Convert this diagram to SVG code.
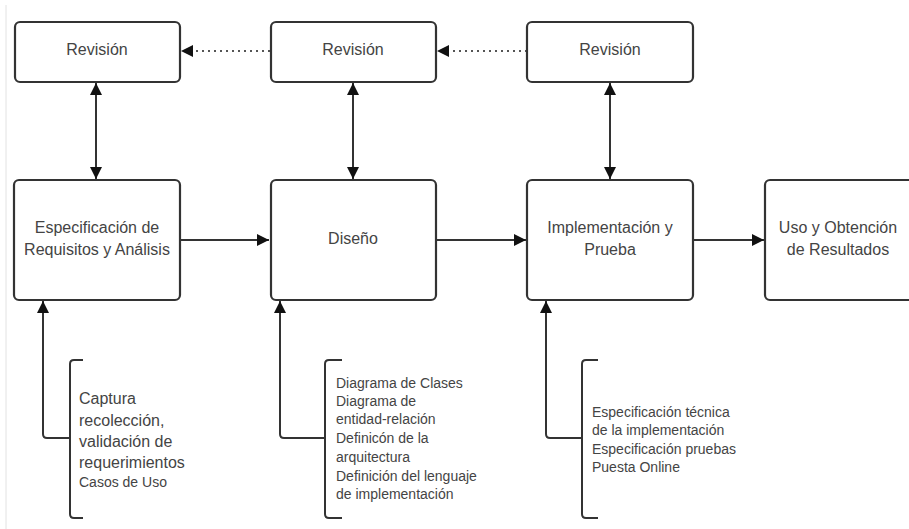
<svg xmlns="http://www.w3.org/2000/svg" width="909" height="529" viewBox="0 0 909 529">
<defs>
<style>
.box{fill:#fff;stroke:#333;stroke-width:2.2}
.t{font-family:"Liberation Sans",Arial,sans-serif;fill:#444;text-anchor:middle;font-size:16px}
.n{font-family:"Liberation Sans",Arial,sans-serif;fill:#444;font-size:14px}
.n16{font-size:16px}
.line{fill:none;stroke:#333;stroke-width:2}
.dot{fill:none;stroke:#555;stroke-width:2;stroke-dasharray:2 4}
</style>
<marker id="ah" viewBox="0 0 10 10" refX="10" refY="5" markerWidth="7" markerHeight="7" markerUnits="userSpaceOnUse" orient="auto-start-reverse">
<path d="M0,0 L10,5 L0,10 z" fill="#111"/>
</marker>
<marker id="ahb" viewBox="0 0 10 10" refX="10" refY="5" markerWidth="14" markerHeight="12" markerUnits="userSpaceOnUse" orient="auto-start-reverse">
<path d="M0,0 L10,5 L0,10 z" fill="#111"/>
</marker>
</defs>
<rect width="909" height="529" fill="#fff"/>
<line x1="6" y1="5" x2="6" y2="529" stroke="#e2e2e2" stroke-width="1"/>

<g id="connectors">
<line class="dot" x1="270" y1="51" x2="181" y2="51" marker-end="url(#ahb)"/>
<line class="dot" x1="527" y1="51" x2="437" y2="51" marker-end="url(#ahb)"/>
<line class="line" x1="96" y1="83" x2="96" y2="179" marker-start="url(#ahb)" marker-end="url(#ahb)"/>
<line class="line" x1="353" y1="83" x2="353" y2="179" marker-start="url(#ahb)" marker-end="url(#ahb)"/>
<line class="line" x1="610" y1="83" x2="610" y2="179" marker-start="url(#ahb)" marker-end="url(#ahb)"/>
<line class="line" x1="181" y1="240" x2="269" y2="240" marker-end="url(#ahb)"/>
<line class="line" x1="437" y1="240" x2="526" y2="240" marker-end="url(#ahb)"/>
<line class="line" x1="694" y1="240" x2="764" y2="240" marker-end="url(#ahb)"/>
<path class="line" d="M70,438 H47 Q43,438 43,434 V301" marker-end="url(#ahb)"/>
<path class="line" d="M325,438 H284 Q280,438 280,434 V301" marker-end="url(#ahb)"/>
<path class="line" d="M582,438 H550 Q546,438 546,434 V301" marker-end="url(#ahb)"/>
</g>

<g id="rev1"><rect class="box" x="15" y="22" width="165" height="60" rx="5"/><text class="t" x="97" y="55">Revisión</text></g>
<g id="rev2"><rect class="box" x="271" y="22" width="165" height="60" rx="5"/><text class="t" x="353" y="55">Revisión</text></g>
<g id="rev3"><rect class="box" x="527" y="22" width="166" height="60" rx="5"/><text class="t" x="610" y="55">Revisión</text></g>

<g id="spec"><rect class="box" x="14" y="180" width="166" height="120" rx="5"/>
<text class="t" x="97" y="233">Especificación de</text><text class="t" x="97" y="255">Requisitos y Análisis</text></g>
<g id="diseno"><rect class="box" x="271" y="180" width="165" height="120" rx="5"/>
<text class="t" x="353" y="244">Diseño</text></g>
<g id="impl"><rect class="box" x="527" y="180" width="166" height="120" rx="5"/>
<text class="t" x="610" y="233">Implementación y</text><text class="t" x="610" y="255">Prueba</text></g>
<g id="uso"><rect class="box" x="765" y="180" width="155" height="120" rx="5"/>
<text class="t" x="838" y="233">Uso y Obtención</text><text class="t" x="838" y="255">de Resultados</text></g>

<g id="note1">
<path class="line" d="M83,360 H74 Q70,360 70,364 V514 Q70,518 74,518 H83"/>
<text class="n n16" x="79" y="404">Captura</text>
<text class="n n16" x="79" y="426">recolección,</text>
<text class="n n16" x="79" y="447">validación de</text>
<text class="n n16" x="79" y="468">requerimientos</text>
<text class="n" x="79" y="487">Casos de Uso</text>
</g>
<g id="note2">
<path class="line" d="M342,360 H329 Q325,360 325,364 V514 Q325,518 329,518 H342"/>
<text class="n" x="336" y="388">Diagrama de Clases</text>
<text class="n" x="336" y="406">Diagrama de</text>
<text class="n" x="336" y="424">entidad-relación</text>
<text class="n" x="336" y="443">Definicón de la</text>
<text class="n" x="336" y="462">arquitectura</text>
<text class="n" x="336" y="481">Definición del lenguaje</text>
<text class="n" x="336" y="499">de implementación</text>
</g>
<g id="note3">
<path class="line" d="M598,360 H586 Q582,360 582,364 V514 Q582,518 586,518 H598"/>
<text class="n" x="592" y="417">Especificación técnica</text>
<text class="n" x="592" y="435">de la implementación</text>
<text class="n" x="592" y="454">Especificación pruebas</text>
<text class="n" x="592" y="472">Puesta Online</text>
</g>
</svg>
